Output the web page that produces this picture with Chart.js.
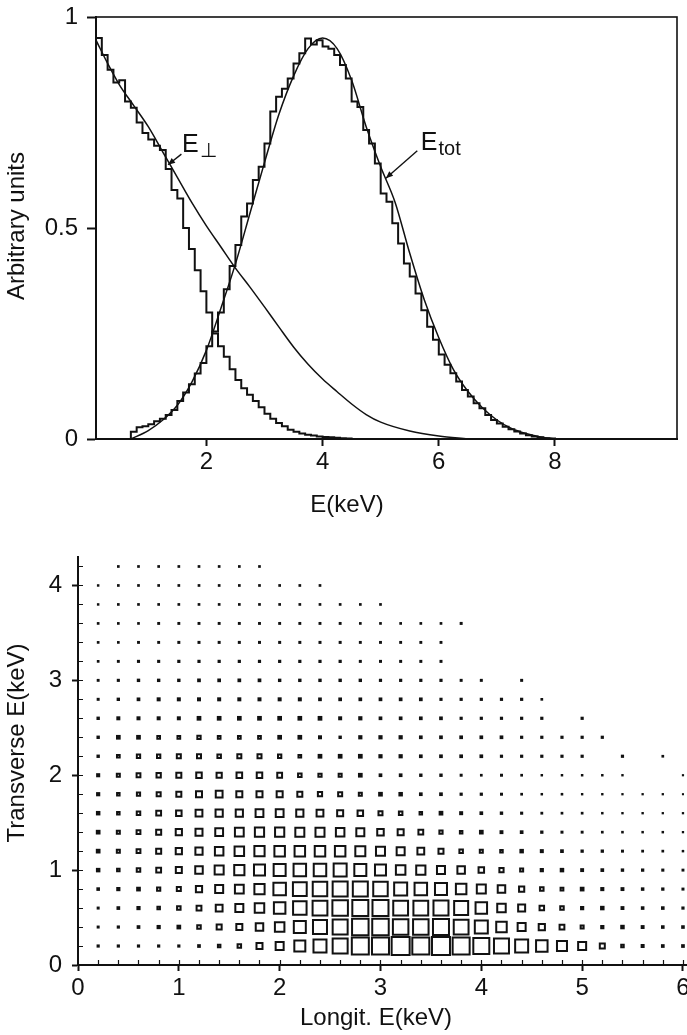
<!DOCTYPE html>
<html>
<head>
<meta charset="utf-8">
<script src="https://cdn.jsdelivr.net/npm/chart.js@4.4.0/dist/chart.umd.min.js"></script>
<style>
  body { margin: 0; background: #fff; }
  #wrap { position: relative; width: 687px; height: 1035px; overflow: hidden; background: #fff; }
  canvas { position: absolute; left: 0; }
  #spectra { top: 0; }
  #grid2d { top: 540px; }
</style>
</head>
<body>
<div id="wrap">
  <canvas id="spectra" width="687" height="520"></canvas>
  <canvas id="grid2d" width="687" height="495"></canvas>
</div>
<script>
// ---------- top panel: energy spectra (histograms + fitted curves) ----------
const binStart = [
  0.1, 0.2, 0.3, 0.4, 0.5, 0.6, 0.7, 0.8, 0.9, 1.0,
  1.1, 1.2, 1.3, 1.4, 1.5, 1.6, 1.7, 1.8, 1.9, 2.0,
  2.1, 2.2, 2.3, 2.4, 2.5, 2.6, 2.7, 2.8, 2.9, 3.0,
  3.1, 3.2, 3.3, 3.4, 3.5, 3.6, 3.7, 3.8, 3.9, 4.0,
  4.1, 4.2, 4.3, 4.4, 4.5, 4.6, 4.7, 4.8, 4.9, 5.0,
  5.1, 5.2, 5.3, 5.4, 5.5, 5.6, 5.7, 5.8, 5.9, 6.0,
  6.1, 6.2, 6.3, 6.4, 6.5, 6.6, 6.7, 6.8, 6.9, 7.0,
  7.1, 7.2, 7.3, 7.4, 7.5, 7.6, 7.7, 7.8, 7.9, 8.0
];
const ePerpHist = [
  0.95, 0.91, 0.875, 0.845, 0.85, 0.80, 0.785, 0.75, 0.725, 0.71,
  0.695, 0.685, 0.64, 0.59, 0.57, 0.50, 0.45, 0.40, 0.35, 0.30,
  0.25, 0.22, 0.195, 0.165, 0.14, 0.12, 0.105, 0.09, 0.075, 0.06,
  0.048, 0.038, 0.03, 0.022, 0.017, 0.013, 0.01, 0.008, 0.006, 0.005,
  0.004, 0.003, 0.002, 0.001, 0, 0, 0, 0, 0, 0,
  0, 0, 0, 0, 0, 0, 0, 0, 0, 0,
  0, 0, 0, 0, 0, 0, 0, 0, 0, 0,
  0, 0, 0, 0, 0, 0, 0, 0, 0, 0
];
const eTotHist = [
  0, 0, 0, 0, 0, 0, 0.017, 0.028, 0.03, 0.035,
  0.042, 0.048, 0.057, 0.069, 0.09, 0.11, 0.13, 0.155, 0.18, 0.22,
  0.255, 0.30, 0.355, 0.41, 0.46, 0.527, 0.558, 0.614, 0.645, 0.70,
  0.776, 0.811, 0.83, 0.854, 0.89, 0.914, 0.949, 0.935, 0.945, 0.93,
  0.925, 0.91, 0.886, 0.854, 0.80, 0.787, 0.732, 0.70, 0.653, 0.582,
  0.562, 0.511, 0.463, 0.416, 0.385, 0.345, 0.305, 0.266, 0.235, 0.20,
  0.176, 0.156, 0.136, 0.116, 0.101, 0.085, 0.073, 0.057, 0.045, 0.037,
  0.029, 0.023, 0.018, 0.013, 0.009, 0.006, 0.004, 0.002, 0.001, 0
];
const ePerpFitE = [0.1, 0.3, 0.5, 0.75, 1.0, 1.25, 1.5, 1.75, 2.0, 2.25, 2.5, 2.75, 3.0, 3.25,
                   3.5, 3.75, 4.0, 4.25, 4.5, 4.75, 5.0, 5.5, 6.0, 6.5];
const ePerpFit  = [0.945, 0.89, 0.84, 0.79, 0.74, 0.68, 0.62, 0.56, 0.505, 0.455, 0.405, 0.36, 0.313, 0.265,
                   0.218, 0.177, 0.142, 0.112, 0.083, 0.058, 0.04, 0.019, 0.007, 0];
const eTotFitE = [0.7, 1.0, 1.25, 1.5, 1.75, 2.0, 2.25, 2.5, 2.75, 3.0, 3.25, 3.5, 3.75, 4.0, 4.25,
                  4.5, 4.75, 5.0, 5.25, 5.5, 5.75, 6.0, 6.25, 6.5, 6.75, 7.0, 7.25, 7.5, 7.75, 8.0];
const eTotFit  = [0, 0.02, 0.045, 0.08, 0.135, 0.21, 0.31, 0.415, 0.535, 0.655, 0.77, 0.86, 0.925, 0.95, 0.925,
                  0.85, 0.74, 0.645, 0.56, 0.44, 0.33, 0.24, 0.165, 0.113, 0.074, 0.045, 0.025, 0.013, 0.005, 0];
const topXTicks = [2, 4, 6, 8];
const topYTicks = [0, 0.5, 1];

// ---------- bottom panel: longitudinal vs transverse energy ----------
const longE  = [0.2, 0.4, 0.6, 0.8, 1.0, 1.2, 1.4, 1.6, 1.8, 2.0, 2.2, 2.4, 2.6, 2.8, 3.0,
                3.2, 3.4, 3.6, 3.8, 4.0, 4.2, 4.4, 4.6, 4.8, 5.0, 5.2, 5.4, 5.6, 5.8, 6.0];
const transE = [0.2, 0.4, 0.6, 0.8, 1.0, 1.2, 1.4, 1.6, 1.8, 2.0, 2.2, 2.4, 2.6, 2.8, 3.0,
                3.2, 3.4, 3.6, 3.8, 4.0, 4.2];
// one row per transverse bin (bottom row first), one entry per longitudinal bin
const cellCounts = [
  [2.5, 2.5, 2.5, 2.5, 2.5, 3, 4.5, 5.5, 8, 10, 13, 15, 17, 19, 19, 20, 19, 20, 19, 18, 17, 15, 13.5, 12, 10, 7, 4.5, 3.3, 3, 3],
  [2.3, 2.5, 3, 3.5, 4, 5.5, 7, 8, 9.5, 11.5, 14, 16, 17, 18.5, 18.5, 17.5, 17.5, 18, 16.8, 15, 12.5, 10, 8.2, 6.8, 5, 4.2, 3.8, 3.2, 2.9, 2.9],
  [2.3, 3, 3.5, 4.5, 5.5, 6.8, 8.8, 10, 11.5, 13.5, 15.5, 16.8, 17.5, 18, 18, 16.8, 16.8, 17, 16, 13.5, 10.5, 9, 6.5, 5.5, 4.2, 3.8, 3.2, 2.9, 2.9, 2.5],
  [2.9, 3.5, 4, 5.2, 6, 8.2, 10, 10.8, 12.2, 14.5, 15.8, 16.5, 17, 17, 16.5, 15, 14.5, 14, 12.5, 11, 9.5, 7.2, 5.5, 4.8, 4, 3.4, 3.2, 2.8, 2.6, 2.3],
  [3.8, 4.5, 5.5, 6.8, 8, 9.5, 11, 12.2, 13, 14, 14.5, 14.5, 15, 14, 13, 11.5, 11.2, 10, 9.5, 7.5, 6.2, 5, 4.2, 3.8, 3.2, 3, 2.7, 2.6, 2.4, 2.2],
  [4, 5, 5.8, 7, 8.2, 9.2, 10.5, 11.5, 12.2, 12.5, 12.5, 12.5, 12.5, 12, 11, 10, 8.8, 7, 5.5, 5, 4.5, 3.8, 3.3, 3, 2.6, 2.6, 2.3, 2.1, 2, 1.8],
  [4, 5, 5.8, 7, 8.2, 9, 9.8, 10.8, 11.2, 11.2, 11, 11, 10.5, 10, 8.5, 8, 6.8, 5.2, 4.5, 4, 3.2, 3, 2.6, 2.3, 2.2, 2, 1.9, 1.8, 1.8, 1.6],
  [3.8, 4.5, 5.5, 6.8, 7.5, 8.8, 9.2, 9.2, 9.8, 9.8, 9.2, 8.8, 8, 7.5, 6, 5.5, 4.5, 4, 3.3, 3, 2.7, 2.4, 2.1, 2, 2, 1.8, 1.7, 1.7, 1.6, 1.6],
  [3.5, 4.5, 5.2, 6, 7, 8, 8.8, 8, 8, 8, 7, 6.2, 6, 5, 4, 3.8, 3, 3, 2.5, 2.5, 2.3, 2, 1.8, 1.9, 1.7, 1.7, 1.6, 1.6, 1.6, 1.4],
  [3.4, 5, 5.8, 6.3, 7, 7.5, 7.2, 7.6, 7.5, 6.8, 5.5, 5.2, 5, 4, 3, 3, 2.7, 2.7, 2.3, 2, 2.3, 2, 1.8, 1.8, 1.8, 1.8, 1.7, 0, 0, 1.5],
  [2.7, 4.7, 5.3, 5.3, 6, 6, 5.5, 6, 6, 5.3, 4.7, 4, 4, 4, 3.5, 3.5, 3, 3, 3, 3, 2.5, 2.5, 2.5, 2.5, 2.5, 0, 2.5, 0, 2, 0],
  [2.7, 4, 4, 4.7, 4.7, 5.3, 4.7, 4.7, 4.7, 4, 4, 3.3, 2.7, 3.5, 3.5, 3.5, 3, 3, 3, 3, 3, 2.5, 2.5, 2.5, 2.5, 2.5, 0, 0, 0, 0],
  [2.7, 3.3, 3.3, 3.3, 3.3, 4, 4, 4, 4, 4, 4, 4, 3.3, 3.5, 3, 3, 3, 3, 2.5, 2.5, 2.5, 2.5, 2.5, 0, 2.5, 0, 0, 0, 0, 0],
  [2.3, 2.7, 3, 3.3, 3.3, 3.3, 3.3, 3.3, 3.3, 3.3, 3.3, 3, 3, 3, 3, 3, 3, 2.5, 2.5, 2.5, 2.5, 2.5, 2, 0, 0, 0, 0, 0, 0, 0],
  [2.2, 2.4, 2.7, 2.7, 2.7, 3, 3, 3, 3, 2.7, 2.7, 2.7, 2.7, 2.7, 2.5, 2.5, 2.5, 2.5, 2.3, 2.3, 0, 2.3, 0, 0, 0, 0, 0, 0, 0, 0],
  [2, 2.2, 2.4, 2.4, 2.5, 2.5, 2.5, 2.5, 2.5, 2.5, 2.5, 2.5, 2.5, 2.3, 2.3, 2.3, 2.3, 2.3, 0, 0, 0, 0, 0, 0, 0, 0, 0, 0, 0, 0],
  [2, 2, 2.2, 2.2, 2.3, 2.3, 2.3, 2.3, 2.3, 2.3, 2.3, 2.3, 2.3, 2.2, 2.2, 2.2, 2.2, 2.2, 0, 0, 0, 0, 0, 0, 0, 0, 0, 0, 0, 0],
  [2, 2, 2, 2.2, 2.2, 2.2, 2.2, 2.2, 2.2, 2.2, 2.2, 2.2, 2.2, 2, 2, 2, 2, 2, 2.3, 0, 0, 0, 0, 0, 0, 0, 0, 0, 0, 0],
  [1.8, 2, 2, 2, 2, 2, 2, 2, 2, 2, 2, 2, 2, 2, 2, 0, 0, 0, 0, 0, 0, 0, 0, 0, 0, 0, 0, 0, 0, 0],
  [1.8, 2, 2, 2, 2, 2, 2, 2, 2, 2, 2, 2, 0, 0, 0, 0, 0, 0, 0, 0, 0, 0, 0, 0, 0, 0, 0, 0, 0, 0],
  [0, 2, 2, 2, 2, 2, 2, 2, 2, 0, 0, 0, 0, 0, 0, 0, 0, 0, 0, 0, 0, 0, 0, 0, 0, 0, 0, 0, 0, 0]
];
const longTicks  = [0, 1, 2, 3, 4, 5, 6];
const transTicks = [0, 1, 2, 3, 4];

const INK = '#111';
const FONT = '"Liberation Sans", Arial, Helvetica, sans-serif';

function pairs(xs, ys) {
  return xs.map((x, i) => ({ x: x, y: ys[i] }));
}

function fixTicks(list) {
  return function (scale) { scale.ticks = list.map(v => ({ value: v })); };
}

// keep the axis boxes at fixed sizes and stop edge labels from shrinking the plot
function fixBox(size, horizontal) {
  return function (s) {
    if (horizontal) s.height = size; else s.width = size;
    s.paddingLeft = s.paddingRight = s.paddingTop = s.paddingBottom = 0;
  };
}

// axis titles drawn by hand so they sit where the original puts them
function axisTitles(items) {
  return {
    id: 'axisTitles',
    afterDraw(chart) {
      const ctx = chart.ctx;
      ctx.save();
      ctx.fillStyle = INK;
      ctx.font = '24px ' + FONT;
      ctx.textAlign = 'center';
      ctx.textBaseline = 'middle';
      items.forEach(t => {
        ctx.save();
        ctx.translate(t.x, t.y);
        if (t.rotate) ctx.rotate(-Math.PI / 2);
        ctx.fillText(t.text, 0, 0);
        ctx.restore();
      });
      ctx.restore();
    }
  };
}

const frame = {
  id: 'frame',
  afterDatasetsDraw(chart) {
    const { ctx, chartArea: a } = chart;
    ctx.save();
    ctx.strokeStyle = INK;
    ctx.lineWidth = 1.6;
    ctx.strokeRect(a.left, a.top, a.right - a.left, a.bottom - a.top);
    ctx.restore();
  }
};

// curve labels with leader arrows, placed in data units
const curveNotes = [
  { main: 'E', sub: '\u22A5', at: [1.58, 0.680], from: [1.57, 0.675], to: [1.34, 0.650] },
  { main: 'E', sub: 'tot',    at: [5.69, 0.685], from: [5.63, 0.683], to: [5.09, 0.618] }
];

function drawArrow(ctx, x1, y1, x2, y2) {
  ctx.beginPath();
  ctx.moveTo(x1, y1);
  ctx.lineTo(x2, y2);
  ctx.stroke();
  const ang = Math.atan2(y2 - y1, x2 - x1), L = 7, W = 3;
  ctx.beginPath();
  ctx.moveTo(x2, y2);
  ctx.lineTo(x2 - L * Math.cos(ang) + W * Math.sin(ang), y2 - L * Math.sin(ang) - W * Math.cos(ang));
  ctx.lineTo(x2 - L * Math.cos(ang) - W * Math.sin(ang), y2 - L * Math.sin(ang) + W * Math.cos(ang));
  ctx.closePath();
  ctx.fill();
}

const notes = {
  id: 'notes',
  afterDraw(chart) {
    const { ctx, scales: { x, y } } = chart;
    ctx.save();
    ctx.fillStyle = INK;
    ctx.strokeStyle = INK;
    ctx.lineWidth = 1.4;
    ctx.textBaseline = 'alphabetic';
    ctx.textAlign = 'left';
    curveNotes.forEach(n => {
      const px = x.getPixelForValue(n.at[0]);
      const py = y.getPixelForValue(n.at[1]);
      ctx.font = '25px ' + FONT;
      ctx.fillText(n.main, px, py);
      const w = ctx.measureText(n.main).width;
      ctx.font = '20px ' + FONT;
      ctx.fillText(n.sub, px + w + 1, py + 5);
      drawArrow(ctx,
        x.getPixelForValue(n.from[0]), y.getPixelForValue(n.from[1]),
        x.getPixelForValue(n.to[0]), y.getPixelForValue(n.to[1]));
    });
    ctx.restore();
  }
};

const tickFont = { family: FONT, size: 24 };

new Chart(document.getElementById('spectra'), {
  type: 'line',
  data: {
    datasets: [
      { label: 'E perp histogram', data: pairs(binStart, ePerpHist), stepped: true,
        borderColor: INK, borderWidth: 2, pointRadius: 0, fill: false },
      { label: 'E tot histogram', data: pairs(binStart, eTotHist), stepped: true,
        borderColor: INK, borderWidth: 2, pointRadius: 0, fill: false },
      { label: 'E perp fit', data: pairs(ePerpFitE, ePerpFit), cubicInterpolationMode: 'monotone',
        borderColor: INK, borderWidth: 1.5, pointRadius: 0, fill: false },
      { label: 'E tot fit', data: pairs(eTotFitE, eTotFit), cubicInterpolationMode: 'monotone',
        borderColor: INK, borderWidth: 1.5, pointRadius: 0, fill: false }
    ]
  },
  options: {
    responsive: false,
    animation: false,
    events: [],
    layout: { autoPadding: false, padding: { top: 17, right: 10, left: 0, bottom: 0 } },
    scales: {
      x: {
        type: 'linear', min: 0.1, max: 10.1,
        afterBuildTicks: fixTicks(topXTicks),
        afterFit: fixBox(81, true),
        grid: { drawOnChartArea: false, tickLength: 7, tickWidth: 2, tickColor: INK },
        border: { color: INK, width: 2 },
        ticks: { color: INK, font: tickFont, padding: 2, maxRotation: 0, callback: v => String(v) }
      },
      y: {
        type: 'linear', min: 0, max: 1,
        afterBuildTicks: fixTicks(topYTicks),
        afterFit: fixBox(96, false),
        grid: { drawOnChartArea: false, tickLength: 9, tickWidth: 2, tickColor: INK },
        border: { color: INK, width: 2 },
        ticks: { color: INK, font: tickFont, padding: 9, callback: v => String(v) }
      }
    },
    plugins: { legend: { display: false }, tooltip: { enabled: false } }
  },
  plugins: [frame, notes, axisTitles([
    { text: 'Arbitrary units', x: 17, y: 226, rotate: true },
    { text: 'E(keV)', x: 347, y: 505 }
  ])]
});

// ---------- bottom chart ----------
const cells = [];
transE.forEach((ty, r) => {
  longE.forEach((lx, c) => {
    const n = cellCounts[r][c];
    if (n > 0) cells.push({ x: lx, y: ty, n: n });
  });
});

const HOLLOW = 4;   // boxes above this are drawn open
const STROKE = 2;

function cellOf(ctx) { return ctx.raw ? ctx.raw.n : 0; }

const minorTicks = {
  id: 'minorTicks',
  afterDraw(chart) {
    const { ctx, chartArea: a, scales: { x, y } } = chart;
    ctx.save();
    ctx.strokeStyle = INK;
    ctx.lineWidth = 1.2;
    ctx.beginPath();
    for (let v = 0.2; v < x.max; v += 0.2) {
      const px = Math.round(x.getPixelForValue(v)) + 0.5;
      ctx.moveTo(px, a.bottom);
      ctx.lineTo(px, a.bottom - 5);
    }
    for (let v = 0.2; v < y.max; v += 0.2) {
      const py = Math.round(y.getPixelForValue(v)) + 0.5;
      ctx.moveTo(a.left, py);
      ctx.lineTo(a.left + 5, py);
    }
    ctx.stroke();
    ctx.restore();
  }
};

new Chart(document.getElementById('grid2d'), {
  type: 'scatter',
  data: {
    datasets: [{
      label: 'counts',
      data: cells,
      pointStyle: 'rect',
      pointRadius: ctx => {
        const n = cellOf(ctx);
        const side = n > HOLLOW ? n - STROKE : n + 0.7;
        return side / Math.SQRT2;
      },
      pointBorderWidth: ctx => (cellOf(ctx) > HOLLOW ? STROKE : 0),
      pointBackgroundColor: ctx => (cellOf(ctx) > HOLLOW ? 'rgba(0,0,0,0)' : INK),
      pointBorderColor: INK,
      clip: false
    }]
  },
  options: {
    responsive: false,
    animation: false,
    events: [],
    layout: { autoPadding: false, padding: { top: 17, right: 0, left: 0, bottom: 0 } },
    scales: {
      x: {
        type: 'linear', min: 0, max: 6.04,
        afterBuildTicks: fixTicks(longTicks),
        afterFit: fixBox(70, true),
        grid: { drawOnChartArea: false, tickLength: 6, tickWidth: 2, tickColor: INK },
        border: { color: INK, width: 2 },
        ticks: { color: INK, font: tickFont, padding: 3, maxRotation: 0, callback: v => String(v) }
      },
      y: {
        type: 'linear', min: 0, max: 4.3,
        afterBuildTicks: fixTicks(transTicks),
        afterFit: fixBox(78, false),
        grid: { drawOnChartArea: false, tickLength: 6, tickWidth: 2, tickColor: INK },
        border: { color: INK, width: 2 },
        ticks: { color: INK, font: tickFont, padding: 10, callback: v => String(v) }
      }
    },
    plugins: { legend: { display: false }, tooltip: { enabled: false } }
  },
  plugins: [minorTicks, axisTitles([
    { text: 'Transverse E(keV)', x: 17, y: 203, rotate: true },
    { text: 'Longit. E(keV)', x: 376, y: 478 }
  ])]
});
</script>
</body>
</html>
